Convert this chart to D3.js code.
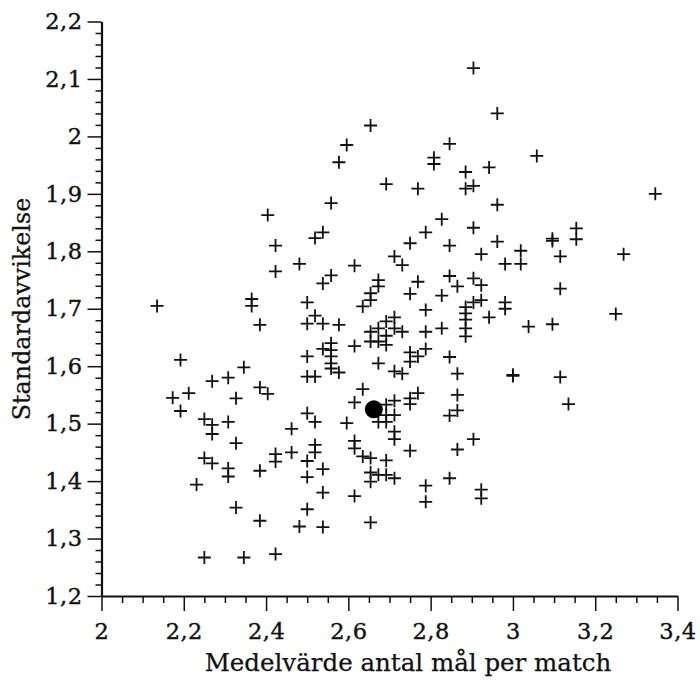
<!DOCTYPE html>
<html><head><meta charset="utf-8">
<script src="https://cdn.jsdelivr.net/npm/d3@7/dist/d3.min.js"></script>
<style>body{margin:0;background:#fff}svg{display:block}</style>
</head><body><svg id="c" width="700" height="684"></svg>
<script>
// Mean goals per match (x) for each season/team
const meanGoals = [
2.404,2.904,2.654,2.596,2.577,2.846,2.808,2.808,2.885,2.942,
2.692,2.769,2.885,2.904,2.558,2.827,2.788,2.904,2.538,2.519,
2.962,3.058,2.962,3.346,3.154,3.154,3.096,3.096,2.962,2.923,
3.019,2.981,3.019,3.115,3.269,2.923,2.923,3.115,2.981,2.981,
2.942,3.038,3.096,3.250,3.000,3.000,3.115,3.135,2.423,2.481,
2.423,2.135,2.365,2.365,2.385,2.192,2.346,2.269,2.308,2.385,
2.404,2.173,2.212,2.327,2.192,2.250,2.269,2.308,2.750,2.846,
2.615,2.712,2.731,2.558,2.538,2.673,2.673,2.654,2.769,2.750,
2.846,2.865,2.904,2.827,2.904,2.885,2.654,2.635,2.500,2.788,
2.885,2.885,2.885,2.885,2.827,2.788,2.519,2.500,2.538,2.577,
2.712,2.692,2.673,2.712,2.731,2.654,2.692,2.673,2.654,2.692,
2.558,2.538,2.558,2.558,2.615,2.500,2.558,2.558,2.577,2.673,
2.750,2.769,2.788,2.750,2.846,2.500,2.519,2.712,2.731,2.865,
2.635,2.750,2.769,2.750,2.865,2.615,2.712,2.692,2.712,2.692,
2.865,2.846,2.500,2.519,2.596,2.673,2.692,2.462,2.269,2.327,
2.250,2.269,2.308,2.308,2.385,2.423,2.423,2.462,2.231,2.327,
2.385,2.481,2.250,2.346,2.423,2.712,2.712,2.615,2.615,2.519,
2.519,2.500,2.538,2.500,2.635,2.654,2.692,2.750,2.865,2.904,
2.654,2.673,2.692,2.712,2.654,2.846,2.788,2.788,2.923,2.923,
2.538,2.615,2.500,2.538,2.654
];
// Standard deviation (y)
const stdDev = [
1.863,2.119,2.019,1.985,1.955,1.987,1.963,1.952,1.938,1.946,
1.917,1.909,1.909,1.914,1.884,1.856,1.833,1.841,1.833,1.823,
2.040,1.966,1.881,1.900,1.840,1.821,1.822,1.818,1.817,1.795,
1.801,1.778,1.778,1.791,1.795,1.741,1.715,1.735,1.711,1.700,
1.685,1.669,1.673,1.691,1.585,1.583,1.581,1.534,1.810,1.778,
1.765,1.705,1.717,1.705,1.672,1.611,1.598,1.574,1.580,1.563,
1.552,1.545,1.553,1.544,1.522,1.508,1.498,1.503,1.814,1.810,
1.775,1.791,1.776,1.758,1.744,1.750,1.739,1.727,1.747,1.726,
1.757,1.739,1.753,1.723,1.711,1.703,1.715,1.704,1.711,1.698,
1.692,1.681,1.666,1.652,1.666,1.660,1.688,1.674,1.674,1.672,
1.685,1.678,1.666,1.666,1.660,1.660,1.653,1.643,1.643,1.637,
1.640,1.630,1.628,1.617,1.635,1.617,1.605,1.596,1.589,1.605,
1.624,1.617,1.630,1.608,1.616,1.582,1.582,1.591,1.587,1.587,
1.560,1.544,1.553,1.534,1.550,1.537,1.540,1.533,1.515,1.515,
1.523,1.514,1.518,1.503,1.501,1.503,1.503,1.491,1.482,1.466,
1.440,1.431,1.422,1.408,1.418,1.447,1.434,1.450,1.394,1.354,
1.331,1.321,1.267,1.267,1.273,1.486,1.473,1.470,1.457,1.463,
1.450,1.435,1.421,1.407,1.443,1.440,1.436,1.453,1.455,1.473,
1.415,1.411,1.411,1.405,1.399,1.405,1.392,1.364,1.385,1.370,
1.380,1.374,1.351,1.320,1.328
];
// Highlighted (average) point
const highlightX = [2.662];
const highlightY = [1.525];

const xTickValues = [2, 2.2, 2.4, 2.6, 2.8, 3, 3.2, 3.4];
const yTickValues = [1.2, 1.3, 1.4, 1.5, 1.6, 1.7, 1.8, 1.9, 2, 2.1, 2.2];
const xLabel = "Medelvärde antal mål per match";
const yLabel = "Standardavvikelse";

const FONT = "'DejaVu Serif', 'Liberation Serif', serif";
const svg = d3.select("#c");
const x = d3.scaleLinear().domain([2, 3.4]).range([101.5, 677.5]);
const y = d3.scaleLinear().domain([1.2, 2.2]).range([596, 21.5]);
const fmt = d => String(d).replace(".", ",");

// minor ticks
const xMinor = d3.range(0, 29).map(i => 2 + i * 0.05).filter(v => !xTickValues.some(t => Math.abs(t - v) < 1e-6));
const yMinor = d3.range(0, 51).map(i => 1.2 + i * 0.02).filter(v => !yTickValues.some(t => Math.abs(t - v) < 1e-6));

const gxMinor = svg.append("g").attr("transform", "translate(0,596)")
  .call(d3.axisBottom(x).tickValues(xMinor).tickSize(7).tickSizeOuter(0).tickFormat(""));
const gyMinor = svg.append("g").attr("transform", "translate(101.5,0)")
  .call(d3.axisLeft(y).tickValues(yMinor).tickSize(6).tickSizeOuter(0).tickFormat(""));
[gxMinor, gyMinor].forEach(g => { g.select(".domain").remove(); g.selectAll("line").attr("stroke", "#111").attr("stroke-width", 1.5); });

const gx = svg.append("g").attr("transform", "translate(0,596)")
  .call(d3.axisBottom(x).tickValues(xTickValues).tickSize(15).tickSizeOuter(0).tickPadding(12).tickFormat(fmt));
const gy = svg.append("g").attr("transform", "translate(101.5,0)")
  .call(d3.axisLeft(y).tickValues(yTickValues).tickSize(14).tickSizeOuter(0).tickPadding(5).tickFormat(fmt));
[gx, gy].forEach(g => {
  g.select(".domain").attr("stroke", "#111").attr("stroke-width", 2.2);
  g.selectAll(".tick line").attr("stroke", "#111").attr("stroke-width", 1.5);
  g.selectAll(".tick text").attr("fill", "#111").attr("stroke", "#111").attr("stroke-width", 0.4)
    .style("font-family", FONT).style("font-size", "22.5px").style("letter-spacing", "0.5px");
});

// crosses
const arm = 6.5;
svg.append("g").selectAll("path").data(d3.range(meanGoals.length)).join("path")
  .attr("d", i => `M${x(meanGoals[i]) - arm},${y(stdDev[i])}H${x(meanGoals[i]) + arm}M${x(meanGoals[i])},${y(stdDev[i]) - arm}V${y(stdDev[i]) + arm}`)
  .attr("stroke", "#111").attr("stroke-width", 1.8).attr("fill", "none");

svg.append("g").selectAll("circle").data(highlightX).join("circle")
  .attr("cx", (d, i) => x(highlightX[i])).attr("cy", (d, i) => y(highlightY[i])).attr("r", 9).attr("fill", "#000");

svg.append("text").attr("x", 408).attr("y", 671).attr("text-anchor", "middle")
  .attr("stroke", "#111").attr("stroke-width", 0.25)
  .style("font-family", FONT).style("font-size", "24.5px").attr("fill", "#111").text(xLabel);
svg.append("text").attr("transform", "translate(30,309) rotate(-90)").attr("text-anchor", "middle")
  .attr("stroke", "#111").attr("stroke-width", 0.25)
  .style("font-family", FONT).style("font-size", "23.8px").attr("fill", "#111").text(yLabel);
</script></body></html>
